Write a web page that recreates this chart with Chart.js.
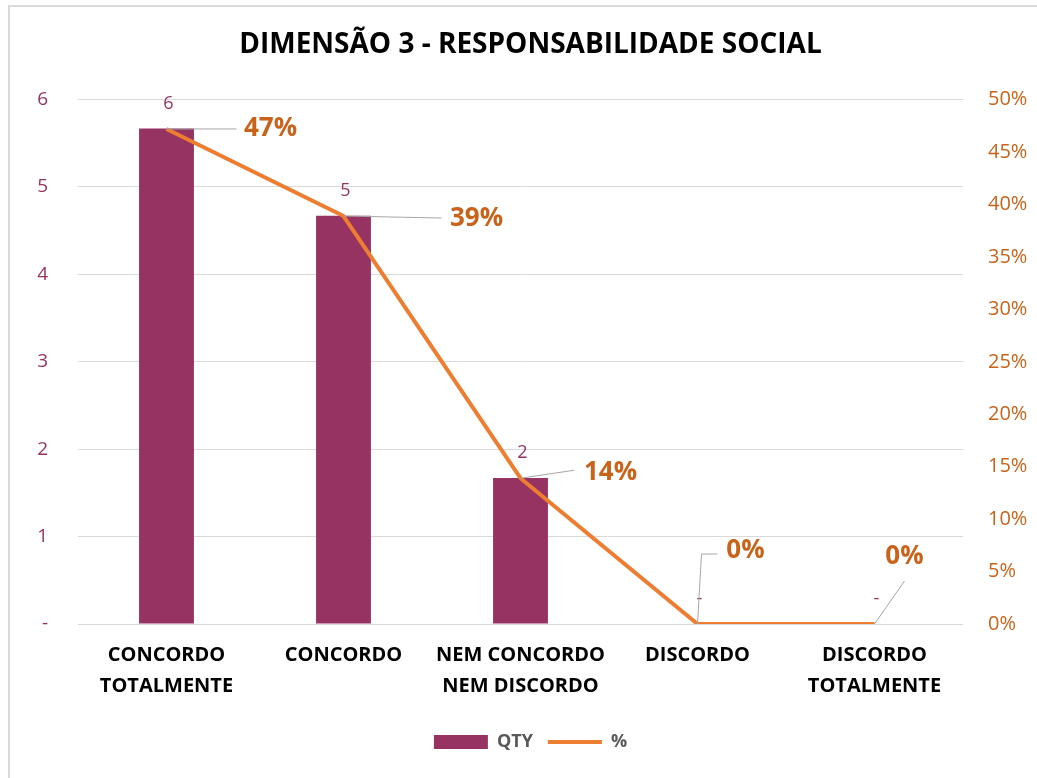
<!DOCTYPE html>
<html>
<head>
<meta charset="utf-8">
<script src="https://cdn.jsdelivr.net/npm/chart.js@4.4.1/dist/chart.umd.min.js"></script>
<style>
  html, body { margin: 0; padding: 0; background: #fff; overflow: hidden; }
  #wrap { position: relative; width: 1037px; height: 778px; }
  #frame { position: absolute; left: 8px; top: 5px; width: 1100px; height: 850px;
           border: 2px solid #d9d9d9; box-sizing: border-box; pointer-events: none; }
</style>
</head>
<body>
<div id="wrap">
  <canvas id="paretoChart"></canvas>
  <div id="frame"></div>
</div>
<script>
// DIMENSAO 3 - bars (QTY) + line (%)
const categories = [
  ['CONCORDO', 'TOTALMENTE'],
  ['CONCORDO'],
  ['NEM CONCORDO', 'NEM DISCORDO'],
  ['DISCORDO'],
  ['DISCORDO', 'TOTALMENTE'],
];
const qty = [5.67, 4.67, 1.67, 0, 0];
const pct = [0.472, 0.389, 0.139, 0, 0];

const FONT = '"Open Sans", sans-serif';
const PURPLE = '#963362';
const ORANGE = '#ED7D31';
const ORANGE_TXT = '#C9631A';

// where each % callout sits, relative to its point (text centre + leader end)
const callouts = [
  { dx: 104, dy: 0, lx: 70, ly: 0 },
  { dx: 133, dy: 3, lx: 98, ly: 2 },
  { dx: 90, dy: -6, lx: 54, ly: -8 },
  { dx: 48, dy: -73, lx: 4, ly: -70, elbow: 16 },
  { dx: 30, dy: -67, lx: 30, ly: -43 },
];

const labelPlugin = {
  id: 'labelPlugin',
  afterDatasetsDraw(chart) {
    const ctx = chart.ctx;
    ctx.save();

    // QTY values above bars
    const bars = chart.getDatasetMeta(0).data;
    ctx.font = '18px ' + FONT;
    ctx.fillStyle = PURPLE;
    ctx.textAlign = 'center';
    ctx.textBaseline = 'middle';
    bars.forEach((bar, i) => {
      const v = qty[i];
      ctx.fillText(v === 0 ? '-' : Math.round(v).toString(), bar.x + 2, bar.y - 25);
    });

    // % callouts with leader lines
    const pts = chart.getDatasetMeta(1).data;
    pts.forEach((p, i) => {
      const c = callouts[i];
      ctx.strokeStyle = '#A6A6A6';
      ctx.lineWidth = 1;
      ctx.beginPath();
      ctx.moveTo(p.x, p.y);
      ctx.lineTo(p.x + c.lx, p.y + c.ly);
      if (c.elbow) ctx.lineTo(p.x + c.lx + c.elbow, p.y + c.ly);
      ctx.stroke();

      ctx.font = 'bold 26px ' + FONT;
      ctx.fillStyle = ORANGE_TXT;
      ctx.textAlign = 'center';
      ctx.fillText(Math.round(pct[i] * 100) + '%', p.x + c.dx, p.y + c.dy);
    });
    ctx.restore();
  }
};

const data = {
  labels: categories,
  datasets: [{
    type: 'bar',
    label: 'QTY',
    data: qty,
    backgroundColor: PURPLE,
    borderWidth: 0,
    pointStyle: 'rect',
    yAxisID: 'y',
    order: 1,
    categoryPercentage: 1,
    barPercentage: 0.31,
  }, {
    type: 'line',
    label: '%',
    data: pct,
    borderColor: ORANGE,
    backgroundColor: ORANGE,
    borderWidth: 4,
    borderJoinStyle: 'round',
    pointStyle: 'line',
    pointRadius: 0,
    tension: 0,
    yAxisID: 'y1',
    order: 0,
  }]
};

const config = {
  data: data,
  options: {
    responsive: true,
    maintainAspectRatio: false,
    animation: false,
    layout: {
      padding: { left: 24, right: 0, top: 0, bottom: 17 }
    },
    plugins: {
      title: {
        display: true,
        text: 'DIMENSÃO 3 - RESPONSABILIDADE SOCIAL',
        color: '#000',
        font: { family: FONT, size: 28, weight: 'bold' },
        padding: { top: 28, bottom: 38 },
      },
      legend: {
        position: 'bottom',
        labels: {
          usePointStyle: true,
          pointStyleWidth: 54,
          boxHeight: 14,
          padding: 15,
          color: '#595959',
          font: { family: FONT, size: 18, weight: 'bold' },
          sort: (a, b) => a.datasetIndex - b.datasetIndex,
        }
      },
      tooltip: { enabled: false },
    },
    scales: {
      x: {
        grid: { display: false, drawTicks: false },
        border: { display: false },
        ticks: {
          color: '#000',
          padding: 16,
          maxRotation: 0,
          autoSkip: false,
          font: { family: FONT, size: 20, weight: 'bold', lineHeight: 1.55 },
        }
      },
      y: {
        position: 'left',
        min: 0,
        max: 6,
        grid: { color: '#D9D9D9', drawTicks: false },
        border: { display: false },
        ticks: {
          stepSize: 1,
          padding: 30,
          color: PURPLE,
          font: { family: FONT, size: 19 },
          callback: (v) => v === 0 ? '-' : v,
        },
        afterFit: (scale) => { scale.width = 54; },
      },
      y1: {
        position: 'right',
        min: 0,
        max: 0.5,
        grid: { display: false, drawTicks: false },
        border: { display: false },
        ticks: {
          stepSize: 0.05,
          padding: 25,
          color: ORANGE_TXT,
          font: { family: FONT, size: 20 },
          callback: (v) => Math.round(v * 100) + '%',
        },
        afterFit: (scale) => { scale.width = 74; },
      }
    }
  },
  plugins: [labelPlugin]
};

var paretoChart = document.getElementById('paretoChart');
const myParetoChart = new Chart(paretoChart, config);
</script>
</body>
</html>
